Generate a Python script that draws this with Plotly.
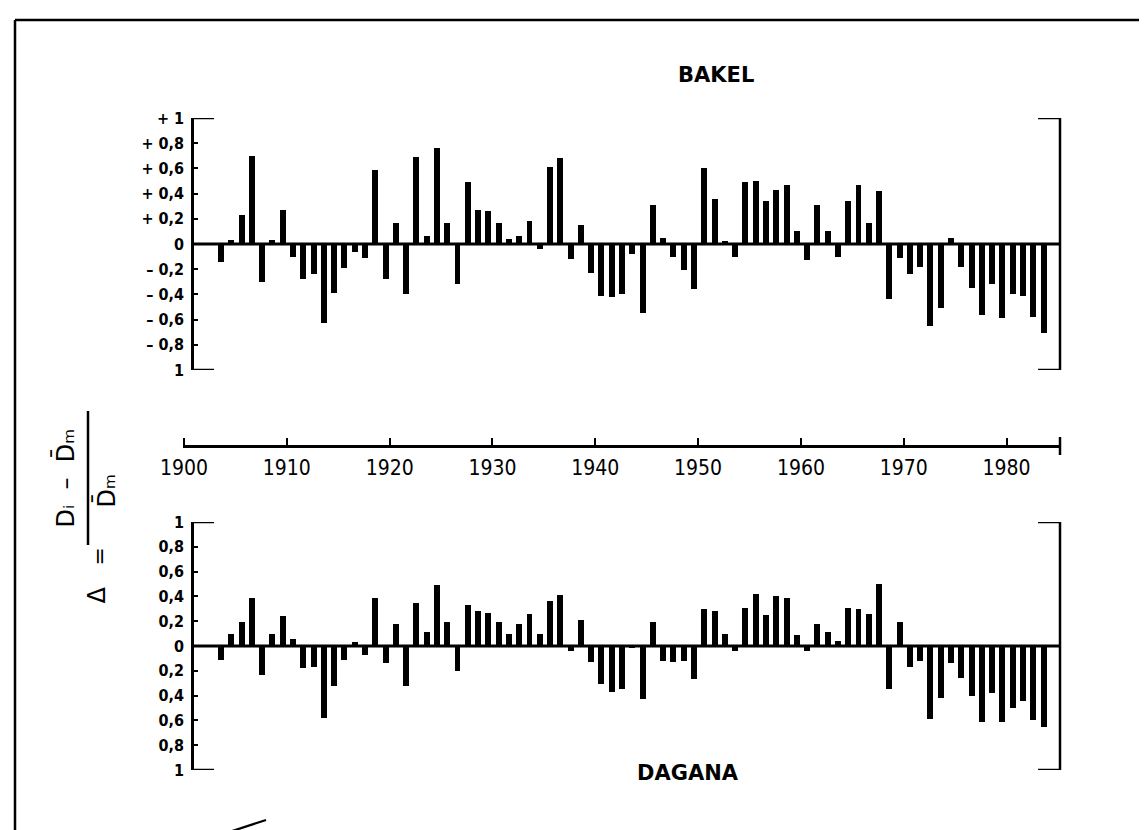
import plotly.graph_objects as go

# ---------------- data ----------------
years = list(range(1903, 1984))

bakel = [
    -0.14, 0.03, 0.23, 0.70, -0.30, 0.03, 0.27, -0.10, -0.28, -0.24,   # 1903-1912
    -0.63, -0.39, -0.19, -0.06, -0.11, 0.59, -0.28, 0.17, -0.40, 0.69,  # 1913-1922
    0.06, 0.76, 0.17, -0.32, 0.49, 0.27, 0.26, 0.17, 0.04, 0.06,        # 1923-1932
    0.18, -0.04, 0.61, 0.68, -0.12, 0.15, -0.23, -0.41, -0.42, -0.40,   # 1933-1942
    -0.08, -0.55, 0.31, 0.05, -0.10, -0.21, -0.36, 0.60, 0.36, 0.02,    # 1943-1952
    -0.10, 0.49, 0.50, 0.34, 0.43, 0.47, 0.10, -0.13, 0.31, 0.10,       # 1953-1962
    -0.10, 0.34, 0.47, 0.17, 0.42, -0.44, -0.11, -0.24, -0.18, -0.65,   # 1963-1972
    -0.51, 0.05, -0.18, -0.35, -0.56, -0.32, -0.59, -0.40, -0.41, -0.58, # 1973-1982
    -0.71,                                                              # 1983
]

dagana = [
    -0.11, 0.10, 0.19, 0.39, -0.23, 0.10, 0.24, 0.06, -0.18, -0.17,    # 1903-1912
    -0.58, -0.32, -0.11, 0.03, -0.07, 0.39, -0.14, 0.18, -0.32, 0.35,   # 1913-1922
    0.11, 0.49, 0.19, -0.20, 0.33, 0.28, 0.27, 0.19, 0.10, 0.18,        # 1923-1932
    0.26, 0.10, 0.36, 0.41, -0.04, 0.21, -0.13, -0.31, -0.37, -0.35,    # 1933-1942
    -0.02, -0.43, 0.19, -0.12, -0.13, -0.12, -0.27, 0.30, 0.28, 0.10,   # 1943-1952
    -0.04, 0.31, 0.42, 0.25, 0.40, 0.39, 0.09, -0.04, 0.18, 0.11,       # 1953-1962
    0.04, 0.31, 0.30, 0.26, 0.50, -0.35, 0.19, -0.17, -0.12, -0.59,     # 1963-1972
    -0.42, -0.14, -0.26, -0.40, -0.61, -0.38, -0.61, -0.50, -0.44, -0.60, # 1973-1982
    -0.65,                                                              # 1983
]

year_ticks = [1900, 1910, 1920, 1930, 1940, 1950, 1960, 1970, 1980]
year_tick_text = [str(y) for y in year_ticks]

dev_tick_vals = [1, 0.8, 0.6, 0.4, 0.2, 0, -0.2, -0.4, -0.6, -0.8, -1]
top_tick_text = ["+ 1", "+ 0,8", "+ 0,6", "+ 0,4", "+ 0,2", "0",
                 "\u2013 0,2", "\u2013 0,4", "\u2013 0,6", "\u2013 0,8", "1"]
bottom_tick_text = ["1", "0,8", "0,6", "0,4", "0,2", "0",
                    "0,2", "0,4", "0,6", "0,8", "1"]

# ---------------- layout constants ----------------
W, H = 1147, 830
ML, MR, MT, MB = 175, 95, 110, 68
PW = W - ML - MR
PH = H - MT - MB
X_RANGE = [1899.9, 1985.2]
BAR_OFFSET = 0.6      # bars drawn between the year ticks (hydrological year)
BAR_WIDTH = 0.58


def px_x(px):
    return (px - ML) / PW


def px_y(py):
    return (H - MB - py) / PH


TOP_DOM = [px_y(362), 1.0]
BOT_DOM = [0.0, px_y(514)]
MID_POS = px_y(438)
LEFT_BR = px_x(184)
RIGHT_BR = 1.0
CAP = 22 / PW

xs = [y + BAR_OFFSET for y in years]

fig = go.Figure()
fig.add_trace(go.Bar(x=xs, y=bakel, xaxis="x", yaxis="y", width=BAR_WIDTH,
                     marker=dict(color="black", line=dict(width=0)),
                     showlegend=False, hoverinfo="x+y"))
fig.add_trace(go.Bar(x=xs, y=dagana, xaxis="x2", yaxis="y2", width=BAR_WIDTH,
                     marker=dict(color="black", line=dict(width=0)),
                     showlegend=False, hoverinfo="x+y"))
# carrier trace so the shared middle year axis is drawn
fig.add_trace(go.Scatter(x=[year_ticks[0]], y=[0], xaxis="x3", yaxis="y",
                         mode="markers", marker=dict(opacity=0),
                         showlegend=False, hoverinfo="skip"))

tick_font = dict(family="DejaVu Sans Condensed, DejaVu Sans", size=16,
                 color="black", weight="bold")
year_font = dict(family="DejaVu Sans Condensed, DejaVu Sans", size=21,
                 color="black")

common_y = dict(range=[-1, 1], tickvals=dev_tick_vals, showgrid=False,
                zeroline=False, anchor="free", position=LEFT_BR,
                showline=True, linecolor="black", linewidth=2.5,
                ticks="inside", ticklen=4, tickwidth=2, tickcolor="black",
                tickfont=tick_font, ticklabelstandoff=4, fixedrange=True)

fig.update_layout(
    width=W, height=H,
    margin=dict(l=ML, r=MR, t=MT, b=MB),
    paper_bgcolor="white", plot_bgcolor="rgba(0,0,0,0)",
    bargap=0,
    xaxis=dict(domain=[0, 1], range=X_RANGE, anchor="y", visible=False,
               fixedrange=True),
    xaxis2=dict(domain=[0, 1], range=X_RANGE, anchor="y2", visible=False,
                matches="x", fixedrange=True),
    xaxis3=dict(domain=[0, 1], range=X_RANGE, overlaying="x", anchor="free",
                position=MID_POS, side="bottom", showline=True,
                linecolor="black", linewidth=2.5, showgrid=False,
                zeroline=False, tickvals=year_ticks, ticktext=year_tick_text,
                ticks="inside", ticklen=7, tickwidth=2, tickcolor="black",
                tickfont=year_font, ticklabelstandoff=2, fixedrange=True),
    yaxis=dict(domain=TOP_DOM, ticktext=top_tick_text, **common_y),
    yaxis2=dict(domain=BOT_DOM, ticktext=bottom_tick_text, **common_y),
)

shapes = []
line = dict(color="black", width=2.5)
for yref, dom in (("y", TOP_DOM), ("y2", BOT_DOM)):
    # zero line
    shapes.append(dict(type="line", xref="paper", yref=yref,
                       x0=LEFT_BR, x1=RIGHT_BR, y0=0, y1=0,
                       line=dict(color="black", width=3.2)))
    # bracket caps
    for yy in (1, -1):
        shapes.append(dict(type="line", xref="paper", yref=yref,
                           x0=LEFT_BR, x1=LEFT_BR + CAP, y0=yy, y1=yy, line=line))
        shapes.append(dict(type="line", xref="paper", yref=yref,
                           x0=RIGHT_BR - CAP, x1=RIGHT_BR, y0=yy, y1=yy, line=line))
    # right bracket
    shapes.append(dict(type="line", xref="paper", yref=yref,
                       x0=RIGHT_BR, x1=RIGHT_BR, y0=-1, y1=1, line=line))

# end tick of the middle axis
shapes.append(dict(type="line", xref="paper", yref="paper",
                   x0=1.0, x1=1.0, y0=MID_POS - 9 / PH, y1=MID_POS + 9 / PH,
                   line=line))
# fraction bar of the y title
shapes.append(dict(type="line", xref="paper", yref="paper",
                   x0=px_x(80), x1=px_x(80), y0=px_y(537), y1=px_y(403),
                   line=dict(color="black", width=2.5)))
# outer frame of the figure (left, top, right)
frame = dict(color="black", width=2.5)
shapes.append(dict(type="line", xref="paper", yref="paper",
                   x0=px_x(7), x1=px_x(7), y0=px_y(830), y1=px_y(12), line=frame))
shapes.append(dict(type="line", xref="paper", yref="paper",
                   x0=px_x(7), x1=px_x(1147), y0=px_y(12), y1=px_y(12), line=frame))
shapes.append(dict(type="line", xref="paper", yref="paper",
                   x0=px_x(1142), x1=px_x(1142), y0=px_y(830), y1=px_y(12),
                   line=frame))
# pen stroke near the bottom left
shapes.append(dict(type="line", xref="paper", yref="paper",
                   x0=px_x(212), y0=px_y(827), x1=px_x(258), y1=px_y(812),
                   line=dict(color="black", width=2.2)))

annotations = [
    dict(text="BAKEL", x=px_x(708), y=px_y(53), xref="paper", yref="paper",
         showarrow=False, font=dict(family="DejaVu Sans", size=21, color="black",
                                    weight="bold")),
    dict(text="DAGANA", x=px_x(680), y=px_y(779), xref="paper", yref="paper",
         showarrow=False, font=dict(family="DejaVu Sans", size=21, color="black",
                                    weight="bold")),
    dict(text="\u0394", x=px_x(72), y=px_y(598), xref="paper", yref="paper",
         showarrow=False, textangle=-90,
         font=dict(family="DejaVu Sans", size=24, color="black")),
    dict(text="=", x=px_x(76), y=px_y(560), xref="paper", yref="paper",
         showarrow=False, textangle=-90,
         font=dict(family="DejaVu Sans", size=22, color="black")),
    dict(text="D\u1d62  \u2013  D\u0304\u2098", x=px_x(74), y=px_y(470),
         xref="paper", yref="paper", showarrow=False, textangle=-90,
         xanchor="right",
         font=dict(family="DejaVu Sans", size=24, color="black")),
    dict(text="D\u0304\u2098", x=px_x(82), y=px_y(483),
         xref="paper", yref="paper", showarrow=False, textangle=-90,
         xanchor="left",
         font=dict(family="DejaVu Sans", size=24, color="black")),
]

fig.update_layout(shapes=shapes, annotations=annotations)

fig.write_html("out.html")
